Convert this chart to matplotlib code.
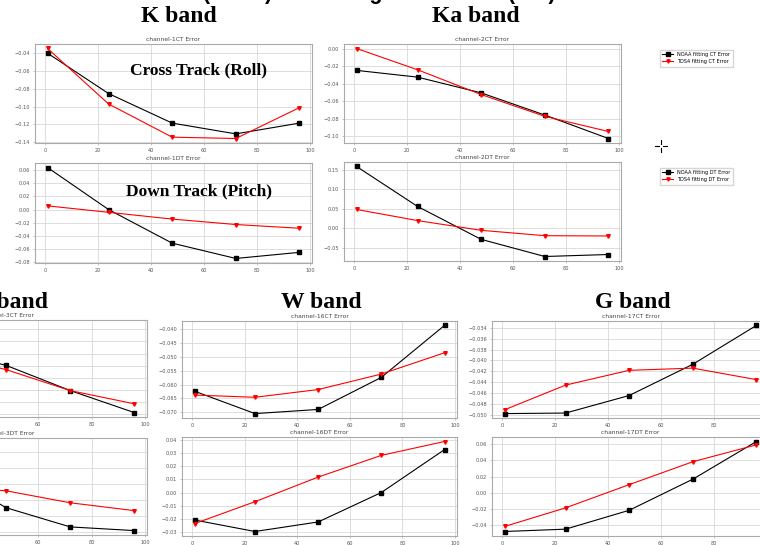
"""
Pointing error of the fitted models per channel, NOAA vs TDS4 fit,
laid out like the slide screenshot (K/Ka on top, V/W/G below).
"""

import matplotlib
matplotlib.use('Agg')
import matplotlib.pyplot as plt
from matplotlib.lines import Line2D
from matplotlib.ticker import MultipleLocator

# x positions shared by every channel
scan_pos = [1, 24, 48, 72, 96]

# cross track (roll) error
noaa_1ct = [-0.0400, -0.0853, -0.1185, -0.1306, -0.1185]
tds4_1ct = [-0.0347, -0.0970, -0.1343, -0.1358, -0.1011]
noaa_2ct = [-0.0245, -0.0322, -0.0502, -0.0755, -0.1023]
tds4_2ct = [0.0005, -0.0238, -0.0521, -0.0770, -0.0943]
noaa_3ct = [-0.0260, -0.0465, -0.0597, -0.0804, -0.0985]
tds4_3ct = [-0.0310, -0.0500, -0.0632, -0.0804, -0.0913]
noaa_16ct = [-0.0624, -0.0705, -0.0690, -0.0574, -0.0386]
tds4_16ct = [-0.0638, -0.0646, -0.0618, -0.0562, -0.0485]
noaa_17ct = [-0.0497, -0.0496, -0.0464, -0.0407, -0.0336]
tds4_17ct = [-0.0490, -0.0445, -0.0418, -0.0414, -0.0435]

# down track (pitch) error
noaa_1dt = [0.0641, 0.0001, -0.0511, -0.0744, -0.0651]
tds4_1dt = [0.0057, -0.0041, -0.0144, -0.0227, -0.0284]
noaa_2dt = [0.1577, 0.0556, -0.0285, -0.0723, -0.0672]
tds4_2dt = [0.0479, 0.0195, -0.0054, -0.0191, -0.0199]
noaa_3dt = [0.0520, 0.0172, -0.0298, -0.0538, -0.0584]
tds4_3dt = [0.0040, -0.0028, -0.0086, -0.0236, -0.0334]
noaa_16dt = [-0.0210, -0.0298, -0.0225, 0.0000, 0.0328]
tds4_16dt = [-0.0238, -0.0070, 0.0118, 0.0284, 0.0390]
noaa_17dt = [-0.0479, -0.0450, -0.0217, 0.0167, 0.0633]
tds4_17dt = [-0.0417, -0.0187, 0.0100, 0.0383, 0.0592]

W, H = 760, 545


def px_rect(left, top, right, bottom):
    # pixel box (origin top-left) -> figure fraction rect
    return [left / W, 1 - bottom / H, (right - left) / W, (bottom - top) / H]


def draw_panel(fig, rect, name, noaa, tds4, ystep):
    ax = fig.add_axes(rect)
    ax.plot(scan_pos, noaa, color='black', marker='s', markersize=2.6, lw=0.8)
    ax.plot(scan_pos, tds4, color='red', marker='v', markersize=2.6, lw=0.8)
    ax.set_title(f'channel-{name} Error', fontsize=4.3, color='#444444', pad=2)
    ax.xaxis.set_major_locator(MultipleLocator(20))
    ax.yaxis.set_major_locator(MultipleLocator(ystep))
    ax.grid(True, color='#d8d8d8', lw=0.6)
    ax.set_axisbelow(True)
    ax.tick_params(labelsize=3.6, labelcolor='#555555', length=1.5,
                   width=0.4, color='#999999', pad=2)
    for sp in ax.spines.values():
        sp.set_color('#aaaaaa')
        sp.set_linewidth(0.8)
    return ax


fig = plt.figure(figsize=(W / 100, H / 100), dpi=100)

panels = [
    ((35, 44, 312, 143), '1CT', noaa_1ct, tds4_1ct, 0.02),
    ((344, 44, 621, 143), '2CT', noaa_2ct, tds4_2ct, 0.02),
    ((35, 163, 312, 263), '1DT', noaa_1dt, tds4_1dt, 0.02),
    ((344, 162, 621, 261), '2DT', noaa_2dt, tds4_2dt, 0.05),
    ((-132, 320, 147, 417), '3CT', noaa_3ct, tds4_3ct, 0.01),
    ((-132, 438, 147, 535), '3DT', noaa_3dt, tds4_3dt, 0.02),
    ((182, 321, 457, 418), '16CT', noaa_16ct, tds4_16ct, 0.005),
    ((182, 437, 457, 536), '16DT', noaa_16dt, tds4_16dt, 0.01),
    ((492, 321, 769, 418), '17CT', noaa_17ct, tds4_17ct, 0.002),
    ((492, 437, 769, 536), '17DT', noaa_17dt, tds4_17dt, 0.02),
]
for box, name, noaa, tds4, ystep in panels:
    draw_panel(fig, px_rect(*box), name, noaa, tds4, ystep)

# legends sitting to the right of the Ka band panels
for ytop, kind in [(47, 'CT'), (165, 'DT')]:
    handles = [
        Line2D([], [], color='black', marker='s', markersize=2.4, lw=0.8),
        Line2D([], [], color='red', marker='v', markersize=2.4, lw=0.8),
    ]
    fig.legend(handles, [f'NOAA fitting {kind} Error', f'TDS4 fitting {kind} Error'],
               loc='upper left', bbox_to_anchor=(657 / W, 1 - ytop / H),
               fontsize=3.6, frameon=True, edgecolor='#cccccc', fancybox=False,
               handlelength=2.2, borderpad=0.5, labelspacing=0.4)

# slide text
serif = dict(family='Liberation Serif', weight='bold', color='black')
fig.text(316 / W, 1 - 4 / H, 'NOAA Error (black) and fitting TDS4 Error (red)',
         ha='center', va='bottom', fontsize=15.5, family='Liberation Sans', weight='bold')
fig.text(179 / W, 1 - 17 / H, 'K band', ha='center', va='center', fontsize=17, **serif)
fig.text(476 / W, 1 - 17 / H, 'Ka band', ha='center', va='center', fontsize=17, **serif)
fig.text(48 / W, 1 - 302 / H, 'V band', ha='right', va='center', fontsize=17, **serif)
fig.text(321 / W, 1 - 302 / H, 'W band', ha='center', va='center', fontsize=17, **serif)
fig.text(633 / W, 1 - 302 / H, 'G band', ha='center', va='center', fontsize=17, **serif)
fig.text(199 / W, 1 - 70 / H, 'Cross Track (Roll)', ha='center', va='center', fontsize=12.5, **serif)
fig.text(199 / W, 1 - 191 / H, 'Down Track (Pitch)', ha='center', va='center', fontsize=12.5, **serif)

# mouse cursor left in the screenshot
cx, cy = 661, 146
for (x0, y0, x1, y1) in [(cx - 6, cy, cx - 2, cy), (cx + 2, cy, cx + 6, cy),
                         (cx, cy - 6, cx, cy - 2), (cx, cy + 2, cx, cy + 6)]:
    fig.add_artist(Line2D([x0 / W, x1 / W], [1 - y0 / H, 1 - y1 / H],
                          color='black', lw=0.8))

fig.savefig('out.png', dpi=100)
